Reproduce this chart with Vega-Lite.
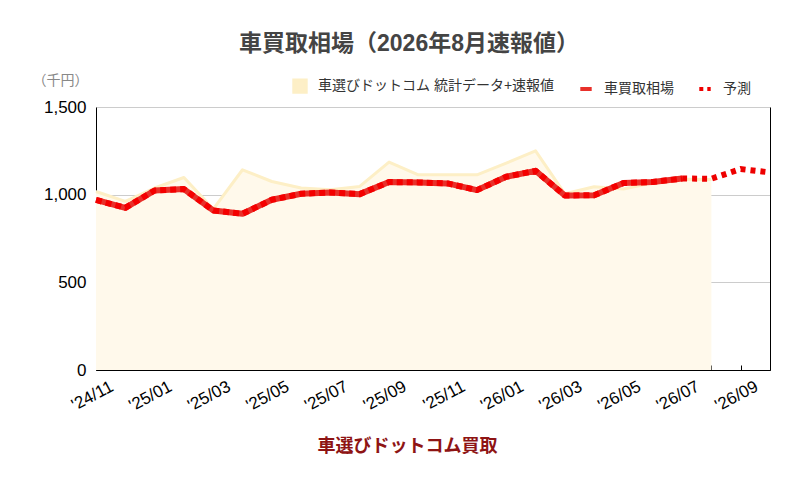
{
  "$schema": "https://vega.github.io/schema/vega-lite/v6.json",
  "autosize": {"type": "none"},
  "width": 674,
  "height": 263,
  "padding": {"left": 96, "top": 107, "right": 41, "bottom": 108},
  "background": "white",
  "config": {
    "font": "Liberation Sans, Noto Sans CJK JP",
    "view": {"stroke": null}
  },
  "title": {
    "text": "車買取相場（2026年8月速報値）",
    "font": "Liberation Sans, Noto Sans CJK JP",
    "fontSize": 23,
    "fontWeight": "bold",
    "color": "#444444",
    "anchor": "middle",
    "dx": -24,
    "offset": 17
  },
  "data": {
    "values": [
      {"m": "'24/11", "s": "車選びドットコム 統計データ+速報値", "v": 1018},
      {"m": "'24/12", "s": "車選びドットコム 統計データ+速報値", "v": 962},
      {"m": "'25/01", "s": "車選びドットコム 統計データ+速報値", "v": 1038},
      {"m": "'25/02", "s": "車選びドットコム 統計データ+速報値", "v": 1098},
      {"m": "'25/03", "s": "車選びドットコム 統計データ+速報値", "v": 918},
      {"m": "'25/04", "s": "車選びドットコム 統計データ+速報値", "v": 1142},
      {"m": "'25/05", "s": "車選びドットコム 統計データ+速報値", "v": 1075},
      {"m": "'25/06", "s": "車選びドットコム 統計データ+速報値", "v": 1038},
      {"m": "'25/07", "s": "車選びドットコム 統計データ+速報値", "v": 1028},
      {"m": "'25/08", "s": "車選びドットコム 統計データ+速報値", "v": 1047},
      {"m": "'25/09", "s": "車選びドットコム 統計データ+速報値", "v": 1186},
      {"m": "'25/10", "s": "車選びドットコム 統計データ+速報値", "v": 1113},
      {"m": "'25/11", "s": "車選びドットコム 統計データ+速報値", "v": 1113},
      {"m": "'25/12", "s": "車選びドットコム 統計データ+速報値", "v": 1113},
      {"m": "'26/01", "s": "車選びドットコム 統計データ+速報値", "v": 1180},
      {"m": "'26/02", "s": "車選びドットコム 統計データ+速報値", "v": 1250},
      {"m": "'26/03", "s": "車選びドットコム 統計データ+速報値", "v": 1005},
      {"m": "'26/04", "s": "車選びドットコム 統計データ+速報値", "v": 1045},
      {"m": "'26/05", "s": "車選びドットコム 統計データ+速報値", "v": 1032},
      {"m": "'26/06", "s": "車選びドットコム 統計データ+速報値", "v": 1068},
      {"m": "'26/07", "s": "車選びドットコム 統計データ+速報値", "v": 1088},
      {"m": "'26/08", "s": "車選びドットコム 統計データ+速報値", "v": 1086},
      {"m": "'24/11", "s": "車買取相場", "v": 970},
      {"m": "'24/12", "s": "車買取相場", "v": 925},
      {"m": "'25/01", "s": "車買取相場", "v": 1024},
      {"m": "'25/02", "s": "車買取相場", "v": 1032},
      {"m": "'25/03", "s": "車買取相場", "v": 910},
      {"m": "'25/04", "s": "車買取相場", "v": 891},
      {"m": "'25/05", "s": "車買取相場", "v": 971},
      {"m": "'25/06", "s": "車買取相場", "v": 1005},
      {"m": "'25/07", "s": "車買取相場", "v": 1013},
      {"m": "'25/08", "s": "車買取相場", "v": 1003},
      {"m": "'25/09", "s": "車買取相場", "v": 1072},
      {"m": "'25/10", "s": "車買取相場", "v": 1070},
      {"m": "'25/11", "s": "車買取相場", "v": 1064},
      {"m": "'25/12", "s": "車買取相場", "v": 1026},
      {"m": "'26/01", "s": "車買取相場", "v": 1102},
      {"m": "'26/02", "s": "車買取相場", "v": 1136},
      {"m": "'26/03", "s": "車買取相場", "v": 995},
      {"m": "'26/04", "s": "車買取相場", "v": 997},
      {"m": "'26/05", "s": "車買取相場", "v": 1066},
      {"m": "'26/06", "s": "車買取相場", "v": 1072},
      {"m": "'26/07", "s": "車買取相場", "v": 1092},
      {"m": "'26/07", "s": "予測", "v": 1092},
      {"m": "'26/08", "s": "予測", "v": 1091},
      {"m": "'26/09", "s": "予測", "v": 1146},
      {"m": "'26/10", "s": "予測", "v": 1127}
    ]
  },
  "encoding": {
    "x": {
      "field": "m",
      "type": "ordinal",
      "scale": {"type": "point", "padding": 0, "domain": ["'24/11","'24/12","'25/01","'25/02","'25/03","'25/04","'25/05","'25/06","'25/07","'25/08","'25/09","'25/10","'25/11","'25/12","'26/01","'26/02","'26/03","'26/04","'26/05","'26/06","'26/07","'26/08","'26/09","'26/10"]},
      "axis": {
        "title": "車選びドットコム買取",
        "titleFont": "Noto Sans CJK JP",
        "titleFontSize": 18,
        "titleFontWeight": "bold",
        "titleColor": "#8E1414",
        "titleX": 311,
        "titleY": 76,
        "titleAlign": "center",
        "titleBaseline": "middle",
        "labelExpr": "toNumber(substring(datum.label, 4, 6)) % 2 == 1 ? datum.label : ''",
        "labelAngle": -28,
        "labelAlign": "right",
        "labelBaseline": "top",
        "labelOffset": 12,
        "labelPadding": 13,
        "labelFontSize": 17,
        "labelColor": "#000000",
        "domainColor": "#000000",
        "tickColor": "#000000",
        "tickSize": -5,
        "grid": false
      }
    }
  },
  "layer": [
    {
      "transform": [{"filter": "datum.s == '車選びドットコム 統計データ+速報値'"}],
      "mark": {"type": "area", "color": "#FFF9EB"},
      "encoding": {
        "y": {
          "field": "v",
          "type": "quantitative",
          "scale": {"domain": [0, 1500], "nice": false},
          "axis": {
            "values": [0, 500, 1000, 1500],
            "format": ",.0f",
            "title": "（千円）",
            "titleAngle": 0,
            "titleX": -36,
            "titleY": -27,
            "titleAlign": "center",
            "titleBaseline": "middle",
            "titleFontSize": 14,
            "titleFontWeight": "normal",
            "titleColor": "#888888",
            "labelFontSize": 17,
            "labelColor": "#000000",
            "labelPadding": 10,
            "ticks": false,
            "domainColor": "#000000",
            "gridColor": "#CCCCCC"
          }
        }
      }
    },
    {
      "transform": [{"filter": "datum.s == '車選びドットコム 統計データ+速報値'"}],
      "mark": {"type": "line", "strokeWidth": 3, "strokeJoin": "round"},
      "encoding": {
        "y": {"field": "v", "type": "quantitative", "scale": {"domain": [0, 1500], "nice": false}, "axis": null},
        "color": {
          "field": "s",
          "type": "nominal",
          "scale": {
            "domain": ["車選びドットコム 統計データ+速報値", "車買取相場", "予測"],
            "range": ["#FDEFC6", "#E8302A", "#EE0000"]
          },
          "legend": {
            "title": null,
            "orient": "none",
            "direction": "horizontal",
            "legendX": 196,
            "legendY": -29,
            "columnPadding": 17,
            "labelOffset": 10,
            "labelFontSize": 14,
            "labelColor": "#333333",
            "labelLimit": 400,
            "symbolSize": 130,
            "encode": {
              "symbols": {
                "update": {
                  "shape": {"signal": "datum.value === '車選びドットコム 統計データ+速報値' ? 'square' : 'stroke'"},
                  "fill": {"signal": "datum.value === '車選びドットコム 統計データ+速報値' ? '#FDEFC8' : 'transparent'"},
                  "stroke": {"signal": "datum.value === '車選びドットコム 統計データ+速報値' ? 'transparent' : (datum.value === '予測' ? '#E00000' : '#E53B2E')"},
                  "strokeWidth": {"value": 4},
                  "strokeDash": {"signal": "datum.value === '予測' ? [4, 4] : [1, 0]"}
                }
              }
            }
          }
        }
      }
    },
    {
      "transform": [{"filter": "datum.s == '車買取相場'"}],
      "mark": {"type": "line", "strokeWidth": 6, "strokeJoin": "round"},
      "encoding": {
        "y": {"field": "v", "type": "quantitative", "scale": {"domain": [0, 1500], "nice": false}, "axis": null},
        "color": {"field": "s", "type": "nominal"}
      }
    },
    {
      "transform": [{"filter": "datum.s == '車買取相場'"}],
      "mark": {"type": "line", "strokeWidth": 6, "strokeDash": [6, 4], "color": "#F40000", "strokeJoin": "round"},
      "encoding": {
        "y": {"field": "v", "type": "quantitative", "scale": {"domain": [0, 1500], "nice": false}, "axis": null}
      }
    },
    {
      "transform": [{"filter": "datum.s == '予測'"}],
      "mark": {"type": "line", "strokeWidth": 6, "strokeDash": [5, 5], "strokeCap": "butt"},
      "encoding": {
        "color": {"field": "s", "type": "nominal"},
        "y": {
          "field": "v",
          "type": "quantitative",
          "scale": {"domain": [0, 1500], "nice": false},
          "axis": {"orient": "right", "labels": false, "ticks": false, "grid": false, "title": null, "domainColor": "#000000"}
        }
      }
    }
  ],
  "resolve": {"axis": {"y": "independent"}}
}
